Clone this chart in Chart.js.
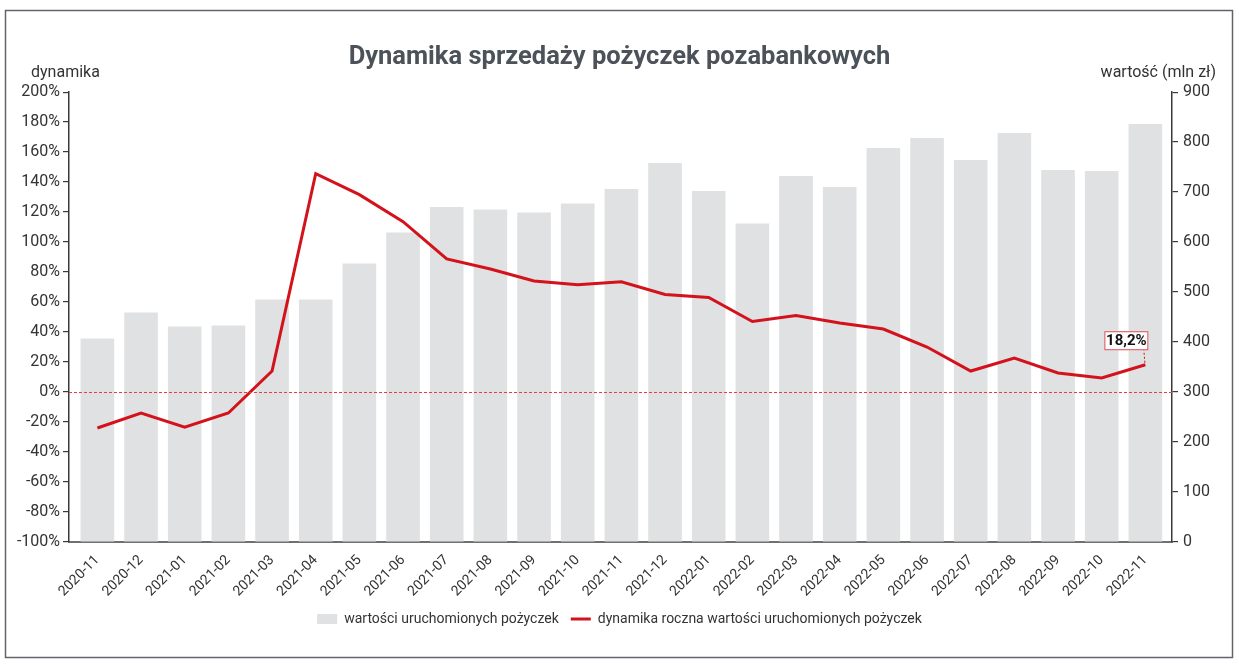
<!DOCTYPE html>
<html>
<head>
<meta charset="utf-8">
<script src="https://cdn.jsdelivr.net/npm/chart.js@4.4.1/dist/chart.umd.min.js"></script>
<style>
    html, body { margin: 0; padding: 0; background: #fff; }
    #wrap { width: 1239px; height: 664px; position: relative; }
</style>
</head>
<body>
<div id="wrap"><canvas id="chart"></canvas></div>
<script>
const TITLE = 'Dynamika sprzedaży pożyczek pozabankowych';
const LEFT_AXIS_TITLE = 'dynamika';
const RIGHT_AXIS_TITLE = 'wartość (mln zł)';

const months = [
    '2020-11', '2020-12', '2021-01', '2021-02', '2021-03', '2021-04', '2021-05',
    '2021-06', '2021-07', '2021-08', '2021-09', '2021-10', '2021-11', '2021-12',
    '2022-01', '2022-02', '2022-03', '2022-04', '2022-05', '2022-06', '2022-07',
    '2022-08', '2022-09', '2022-10', '2022-11',
];

// wartości uruchomionych pożyczek (mln zł)
const loanValues = [
    407, 459, 431, 433, 485, 485, 557, 619, 670, 665, 659, 677, 706,
    758, 702, 637, 732, 710, 788, 808, 764, 818, 744, 742, 836,
];

// dynamika roczna (%)
const yoyGrowth = [
    -24, -14, -23.4, -14, 14, 145.6, 131.6, 113.6, 88.8, 82, 74, 71.5, 73.5,
    65, 63, 47, 51, 46, 42, 30, 14, 22.7, 12.7, 9.4, 18.2,
];

const leftRange = { min: -100, max: 200, step: 20 };
const rightRange = { min: 0, max: 900, step: 100 };

const FONT = 'Roboto, "DejaVu Sans", sans-serif';
const RED = '#d3121c';
const BAR_GREY = '#dfe1e2';

// outer frame + white background
const framePlugin = {
    id: 'frame',
    beforeDraw(chart) {
        const { ctx, width, height } = chart;
        ctx.save();
        ctx.fillStyle = '#fff';
        ctx.fillRect(0, 0, width, height);
        ctx.strokeStyle = '#5f656b';
        ctx.lineWidth = 1.5;
        ctx.strokeRect(5.5, 10.5, width - 12, height - 17);
        ctx.restore();
    },
};

// axis captions above both y axes
const axisTitlesPlugin = {
    id: 'axisTitles',
    afterDraw(chart) {
        const { ctx, chartArea } = chart;
        ctx.save();
        ctx.font = '16px ' + FONT;
        ctx.fillStyle = '#333';
        ctx.textBaseline = 'middle';
        ctx.textAlign = 'left';
        ctx.fillText(LEFT_AXIS_TITLE, 31, chartArea.top - 19);
        ctx.textAlign = 'right';
        ctx.fillText(RIGHT_AXIS_TITLE, 1216, chartArea.top - 19);
        ctx.restore();
    },
};

// dashed 0% line
const zeroLinePlugin = {
    id: 'zeroLine',
    afterDatasetsDraw(chart) {
        const { ctx, chartArea, scales } = chart;
        const y = Math.round(scales.y.getPixelForValue(0)) + 0.5;
        ctx.save();
        ctx.strokeStyle = '#e3403a';
        ctx.lineWidth = 1;
        ctx.setLineDash([3, 2]);
        ctx.beginPath();
        ctx.moveTo(chartArea.left, y);
        ctx.lineTo(chartArea.right, y);
        ctx.stroke();
        ctx.restore();
    },
};

// boxed label on the last point of the line
const lastValuePlugin = {
    id: 'lastValue',
    afterDatasetsDraw(chart) {
        const { ctx } = chart;
        const meta = chart.getDatasetMeta(0);
        const last = meta.data[meta.data.length - 1];
        if (!last) return;
        const text = yoyGrowth[yoyGrowth.length - 1].toFixed(1).replace('.', ',') + '%';
        const cx = last.x - 19, cy = last.y - 24;
        const w = 44, h = 19;
        ctx.save();
        ctx.strokeStyle = RED;
        ctx.lineWidth = 1;
        ctx.setLineDash([2, 2]);
        ctx.beginPath();
        ctx.moveTo(last.x - 0.5, last.y - 2);
        ctx.lineTo(last.x - 1.5, cy + h / 2);
        ctx.stroke();
        ctx.setLineDash([]);
        ctx.fillStyle = '#fff';
        ctx.fillRect(cx - w / 2, cy - h / 2, w, h);
        ctx.strokeStyle = '#d94a4f';
        ctx.strokeRect(cx - w / 2 + 0.5, cy - h / 2 + 0.5, w - 1, h - 1);
        ctx.fillStyle = '#111';
        ctx.font = 'bold 15px ' + FONT;
        ctx.textAlign = 'center';
        ctx.textBaseline = 'middle';
        ctx.fillText(text, cx, cy + 1);
        ctx.restore();
    },
};

new Chart(document.getElementById('chart'), {
    type: 'bar',
    data: {
        labels: months,
        datasets: [
            {
                type: 'line',
                label: 'dynamika roczna wartości uruchomionych pożyczek',
                data: yoyGrowth,
                borderColor: RED,
                backgroundColor: RED,
                borderWidth: 3,
                pointRadius: 0,
                tension: 0,
                yAxisID: 'y',
            },
            {
                label: 'wartości uruchomionych pożyczek',
                data: loanValues,
                backgroundColor: BAR_GREY,
                borderColor: BAR_GREY,
                borderWidth: 0,
                barPercentage: 0.77,
                categoryPercentage: 1,
                yAxisID: 'y1',
            },
        ],
    },
    options: {
        responsive: true,
        maintainAspectRatio: false,
        animation: false,
        layout: { padding: { left: 0, right: 0, top: 0, bottom: 28 } },
        plugins: {
            title: {
                display: true,
                text: TITLE,
                color: '#4b5259',
                font: { family: FONT, size: 25.5, weight: 'bold' },
                padding: { top: 42, bottom: 19.5 },
            },
            legend: {
                position: 'bottom',
                reverse: true,
                labels: {
                    usePointStyle: true,
                    pointStyleWidth: 20,
                    boxWidth: 20,
                    boxHeight: 10,
                    padding: 12,
                    color: '#333',
                    font: { family: FONT, size: 14 },
                    generateLabels(chart) {
                        const items = Chart.defaults.plugins.legend.labels.generateLabels(chart);
                        items.forEach(it => {
                            it.pointStyle = chart.data.datasets[it.datasetIndex].type === 'line' ? 'line' : 'rect';
                        });
                        return items;
                    },
                },
            },
            tooltip: { enabled: false },
        },
        scales: {
            x: {
                grid: { display: false },
                border: { display: true, color: '#707070', width: 2 },
                ticks: {
                    color: '#333',
                    font: { family: FONT, size: 14 },
                    minRotation: 45,
                    maxRotation: 45,
                    autoSkip: false,
                    padding: 2,
                },
                afterBuildTicks: s => {
                    // leave a small gap between the axes and the outer bars
                    s._startValue = -0.65;
                    s._valueRange = 25.26;
                },
                afterFit: s => { s.height = 58; },
            },
            y: {
                position: 'left',
                min: leftRange.min,
                max: leftRange.max,
                grid: { drawOnChartArea: false, drawTicks: true, tickLength: 6, color: '#3a3a3a', lineWidth: 1.2 },
                border: { color: '#3a3a3a', width: 1.5 },
                ticks: {
                    stepSize: leftRange.step,
                    color: '#333',
                    padding: 3,
                    font: { family: FONT, size: 16 },
                    callback: v => v + '%',
                },
                afterFit: s => { s.width = 69; },
            },
            y1: {
                position: 'right',
                min: rightRange.min,
                max: rightRange.max,
                grid: { drawOnChartArea: false, drawTicks: true, tickLength: 6, color: '#3a3a3a', lineWidth: 1.2 },
                border: { color: '#3a3a3a', width: 1.5 },
                ticks: {
                    stepSize: rightRange.step,
                    color: '#333',
                    padding: 5,
                    font: { family: FONT, size: 16 },
                },
                afterFit: s => { s.width = 67; },
            },
        },
    },
    plugins: [framePlugin, axisTitlesPlugin, zeroLinePlugin, lastValuePlugin],
});
</script>
</body>
</html>
